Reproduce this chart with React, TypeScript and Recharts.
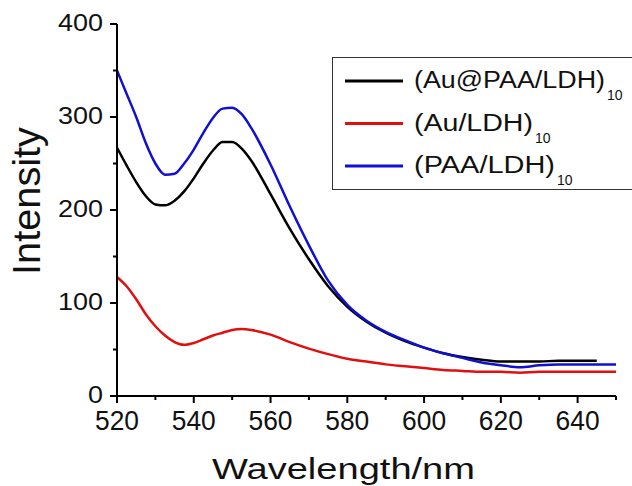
import React from 'react';
import { LineChart, Line, XAxis, YAxis } from 'recharts';

const wavelengths = [520, 522.5, 525, 527.5, 530, 532.5, 535, 537.5, 540, 542.5, 545, 547.5, 550, 552.5, 555, 560, 565, 570, 575, 580, 585, 590, 595, 600, 605, 610, 615, 620, 625, 630, 635, 640, 645, 650];
const auPaaLdh = [267, 248, 230, 215, 206, 205, 210, 220, 234, 250, 264, 273, 273, 266, 253, 217, 180, 147, 118, 96, 80, 68, 59, 52, 46, 42, 39, 37, 37, 37, 38, 38, 38, null];
const auLdh = [128, 118, 104, 88, 75, 65, 58, 55, 57, 61, 65, 68, 71, 72, 71, 66, 58, 51, 45, 40, 37, 34, 32, 30, 28, 27, 26, 26, 25, 26, 26, 26, 26, 26];
const paaLdh = [350, 325, 300, 272, 250, 238, 239, 250, 265, 283, 299, 309, 310, 303, 288, 249, 204, 162, 124, 98, 81, 69, 60, 52, 46, 41, 36, 33, 31, 33, 34, 34, 34, 34];

const xTicks = [520, 530, 540, 550, 560, 570, 580, 590, 600, 610, 620, 630, 640, 650];
const yTicks = [0, 50, 100, 150, 200, 250, 300, 350, 400];

const series = [
  { key: 'a', label: '(Au@PAA/LDH)', width: 191, color: '#000000' },
  { key: 'b', label: '(Au/LDH)', width: 119, color: '#e01010' },
  { key: 'c', label: '(PAA/LDH)', width: 141, color: '#1010d0' },
];

const data = wavelengths.map((w, i) => ({
  w,
  a: auPaaLdh[i],
  b: auLdh[i],
  c: paaLdh[i],
}));

const FONT = '"Liberation Sans", Arial, sans-serif';

const XTick = (props: any) => {
  const { x, y, payload } = props;
  const major = payload.value % 20 === 0;
  return (
    <g>
      <line x1={x} y1={y} x2={x} y2={y + (major ? 7 : 4)} stroke="#000" strokeWidth={2} />
      {major && payload.value !== 650 && (
        <text x={x} y={y + 34} textAnchor="middle" fontSize={27} textLength={44} lengthAdjust="spacingAndGlyphs" fontFamily={FONT} fill="#111">
          {payload.value}
        </text>
      )}
    </g>
  );
};

const YTick = (props: any) => {
  const { x, y, payload } = props;
  const major = payload.value % 100 === 0;
  const s = String(payload.value);
  return (
    <g>
      <line x1={x} y1={y} x2={x - (major ? 7 : 4)} y2={y} stroke="#000" strokeWidth={2} />
      {major && (
        <text x={x - 14} y={y + 7} textAnchor="end" fontSize={23} textLength={s.length * 15} lengthAdjust="spacingAndGlyphs" fontFamily={FONT} fill="#111">
          {s}
        </text>
      )}
    </g>
  );
};

const Overlay = () => (
  <svg width={632} height={486} style={{ position: 'absolute', left: 0, top: 0, pointerEvents: 'none' }}>
    <rect x={332.5} y={57.5} width={310} height={132} fill="#fff" stroke="#333" strokeWidth={1} />
    {series.map((s, i) => {
      const cy = 81 + i * 42.5;
      return (
        <g key={s.key}>
          <line x1={345} y1={cy} x2={403} y2={cy} stroke={s.color} strokeWidth={3} />
          <text x={414} y={cy + 7} fontSize={23} textLength={s.width} lengthAdjust="spacingAndGlyphs" fontFamily={FONT} fill="#111">
            {s.label}
          </text>
          <text x={414 + s.width + 2} y={cy + 19} fontSize={14} fontFamily={FONT} fill="#111">
            10
          </text>
        </g>
      );
    })}
  </svg>
);

export default function App() {
  return (
    <div style={{ position: 'absolute', left: 0, top: 0, width: 632, height: 486, background: '#fff', overflow: 'hidden' }}>
      <LineChart width={632} height={486} data={data} margin={{ top: 24, right: 16, left: 0, bottom: 0 }}>
        <XAxis
          dataKey="w"
          type="number"
          domain={[520, 650]}
          ticks={xTicks}
          interval={0}
          tickSize={0}
          tickMargin={0}
          tick={<XTick />}
          height={90}
          axisLine={{ stroke: '#000', strokeWidth: 2 }}
          label={() => (
            <text x={343.5} y={479} textAnchor="middle" fontSize={30} textLength={263} lengthAdjust="spacingAndGlyphs" fontFamily={FONT} fill="#111">
              Wavelength/nm
            </text>
          )}
        />
        <YAxis
          type="number"
          domain={[0, 400]}
          ticks={yTicks}
          interval={0}
          tickSize={0}
          tickMargin={0}
          tick={<YTick />}
          width={117}
          axisLine={{ stroke: '#000', strokeWidth: 2 }}
          label={() => (
            <text transform="translate(40, 201) rotate(-90)" textAnchor="middle" fontSize={38} textLength={148} lengthAdjust="spacingAndGlyphs" fontFamily={FONT} fill="#111">
              Intensity
            </text>
          )}
        />
        {series.map((s) => (
          <Line
            key={s.key}
            type="monotone"
            dataKey={s.key}
            stroke={s.color}
            strokeWidth={2.5}
            dot={false}
            isAnimationActive={false}
          />
        ))}
      </LineChart>
      <Overlay />
    </div>
  );
}
